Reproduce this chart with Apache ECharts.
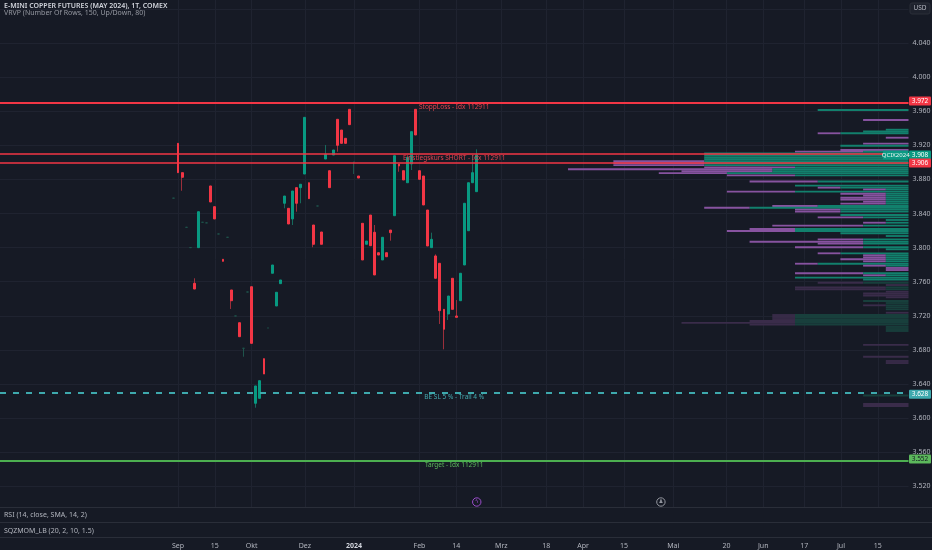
<!DOCTYPE html>
<html lang="de">
<head>
<meta charset="UTF-8">
<title>E-MINI COPPER FUTURES (MAY 2024), 1T, COMEX</title>
<script src="https://cdn.jsdelivr.net/npm/echarts/dist/echarts.min.js"></script>
<style>
  html, body { margin: 0; padding: 0; background: #161a25; }
  #chart { width: 932px; height: 550px; }
</style>
</head>
<body>
<div id="chart"></div>
<script>
// slots on the time axis (one per traded day, future days included)
var SLOT_COUNT = 222;
var FIRST_SLOT = 42;

var tickLabels = [
  [43, 'Sep'], [52, '15'], [61, 'Okt'], [74, 'Dez'], [86, '2024'], [102, 'Feb'],
  [111, '14'], [122, 'Mrz'], [133, '18'], [142, 'Apr'], [152, '15'], [164, 'Mai'],
  [177, '20'], [186, 'Jun'], [196, '17'], [205, 'Jul'], [214, '15']
];

// daily bars from FIRST_SLOT on: [open, close, low, high]
var candles = [
  [3.8580, 3.8580, 3.8580, 3.8580], [3.9223, 3.8879, 3.8879, 3.9223], [3.8879, 3.8825, 3.8667, 3.8879],
  [3.8238, 3.8238, 3.8238, 3.8238], [3.8000, 3.8000, 3.8000, 3.8000], [3.7581, 3.7514, 3.7514, 3.7640],
  [3.7999, 3.8421, 3.7999, 3.8421], [3.8297, 3.8297, 3.8297, 3.8297], [3.8290, 3.8290, 3.8290, 3.8290],
  [3.8723, 3.8535, 3.8535, 3.8723], [3.8480, 3.8336, 3.8336, 3.8480], [3.8160, 3.8160, 3.8160, 3.8160],
  [3.7863, 3.7839, 3.7839, 3.7863], [3.8121, 3.8121, 3.8121, 3.8121], [3.7503, 3.7377, 3.7280, 3.7503],
  [3.7198, 3.7198, 3.7198, 3.7198], [3.7119, 3.6955, 3.6955, 3.7119], [3.6819, 3.6819, 3.6720, 3.6819],
  [3.7479, 3.7479, 3.7479, 3.7479], [3.7541, 3.6877, 3.6877, 3.7541], [3.6174, 3.6377, 3.6122, 3.6377],
  [3.6232, 3.6439, 3.6232, 3.6439], [3.6697, 3.6517, 3.6517, 3.6697], [3.7057, 3.7057, 3.7057, 3.7057],
  [3.7699, 3.7796, 3.7699, 3.7796], [3.7315, 3.7476, 3.7315, 3.7476], [3.7577, 3.7620, 3.7577, 3.7620],
  [3.8520, 3.8605, 3.8461, 3.8605], [3.8461, 3.8277, 3.8277, 3.8461], [3.8336, 3.8664, 3.8265, 3.8664],
  [3.8703, 3.8520, 3.8421, 3.8703], [3.8703, 3.8743, 3.8520, 3.8743], [3.8863, 3.9528, 3.8863, 3.9528],
  [3.8761, 3.8574, 3.8574, 3.8761], [3.8265, 3.8039, 3.8004, 3.8265], [3.8488, 3.8488, 3.8488, 3.8488],
  [3.8183, 3.8039, 3.8039, 3.8183], [3.9039, 3.9094, 3.9039, 3.9204], [3.8902, 3.8703, 3.8703, 3.8902],
  [3.9086, 3.9145, 3.9086, 3.9145], [3.9505, 3.9200, 3.9125, 3.9505], [3.9379, 3.9223, 3.9223, 3.9379],
  [3.9282, 3.9223, 3.9223, 3.9282], [3.9622, 3.9442, 3.9442, 3.9622], [3.9004, 3.9004, 3.8863, 3.9004],
  [3.8840, 3.8816, 3.8816, 3.8840], [3.8285, 3.7855, 3.7855, 3.8285], [3.8039, 3.8077, 3.8039, 3.8077],
  [3.8382, 3.8022, 3.8022, 3.8382], [3.8180, 3.7679, 3.7679, 3.8265], [3.7940, 3.7913, 3.7913, 3.7940],
  [3.7855, 3.8121, 3.7855, 3.8121], [3.7940, 3.7893, 3.7893, 3.7940], [3.8206, 3.8175, 3.8081, 3.8206],
  [3.8374, 3.9078, 3.8374, 3.9078], [3.8981, 3.8957, 3.8890, 3.8981], [3.8902, 3.8793, 3.8793, 3.8902],
  [3.8761, 3.9059, 3.8761, 3.9059], [3.8981, 3.9360, 3.8910, 3.9360], [3.9622, 3.9321, 3.9321, 3.9622],
  [3.8902, 3.8801, 3.8801, 3.8902], [3.8840, 3.8500, 3.8500, 3.8840], [3.8441, 3.8019, 3.8019, 3.8441],
  [3.7999, 3.8097, 3.7999, 3.8175], [3.7902, 3.7640, 3.7640, 3.7921], [3.7816, 3.7260, 3.7104, 3.7816],
  [3.7276, 3.7042, 3.6807, 3.7276], [3.7221, 3.7432, 3.7151, 3.7432], [3.7640, 3.7276, 3.7276, 3.7640],
  [3.7198, 3.7182, 3.7182, 3.7385], [3.7377, 3.7699, 3.7377, 3.7699], [3.7796, 3.8520, 3.7796, 3.8520],
  [3.8198, 3.8761, 3.8198, 3.8761], [3.8761, 3.8879, 3.8761, 3.9086], [3.8656, 3.9086, 3.8656, 3.9153]
];

// visible range volume profile rows: [price, up volume, down volume]
var VP_ROW_STEP = 0.00233;
var VALUE_AREA_LOW = 3.760;
var vpRows = [
  [3.9614, 4, 0], [3.9497, 0, 2], [3.9383, 1, 0], [3.9362, 2, 0], [3.9341, 3, 1], [3.9289, 0, 1],
  [3.9219, 0, 2], [3.9195, 3, 0], [3.9145, 0, 3], [3.9125, 2, 3], [3.9104, 9, 0], [3.9080, 9, 0],
  [3.9057, 9, 0], [3.9036, 9, 0], [3.9013, 9, 4], [3.8990, 9, 4], [3.8967, 9, 4], [3.8942, 5, 4],
  [3.8919, 6, 9], [3.8896, 6, 4], [3.8873, 8, 3], [3.8848, 5, 3], [3.8775, 4, 3], [3.8726, 5, 0],
  [3.8703, 3, 1], [3.8682, 1, 1], [3.8656, 5, 3], [3.8632, 1, 2], [3.8609, 1, 1], [3.8585, 1, 2],
  [3.8562, 1, 2], [3.8538, 1, 1], [3.8515, 1, 2], [3.8488, 4, 2], [3.8467, 7, 2], [3.8445, 3, 2],
  [3.8421, 3, 2], [3.8382, 3, 0], [3.8355, 2, 2], [3.8324, 1, 0], [3.8292, 1, 1], [3.8257, 2, 4],
  [3.8218, 5, 2], [3.8195, 5, 3], [3.8168, 3, 0], [3.8136, 1, 0], [3.8097, 2, 2], [3.8069, 2, 5],
  [3.8046, 2, 2], [3.8004, 2, 3], [3.7980, 1, 0], [3.7933, 3, 1], [3.7910, 1, 1], [3.7886, 1, 1],
  [3.7863, 1, 2], [3.7839, 1, 1], [3.7811, 4, 1], [3.7788, 1, 1], [3.7761, 0, 1], [3.7737, 0, 1],
  [3.7699, 2, 3], [3.7675, 1, 1], [3.7647, 5, 0], [3.7626, 2, 0], [3.7588, 2, 2], [3.7561, 0, 1],
  [3.7534, 1, 4], [3.7511, 1, 4], [3.7483, 0, 1], [3.7462, 0, 2], [3.7438, 0, 2], [3.7417, 0, 1],
  [3.7374, 2, 0], [3.7350, 1, 0], [3.7323, 1, 1], [3.7300, 1, 0], [3.7276, 1, 0], [3.7236, 0, 1],
  [3.7209, 5, 1], [3.7186, 5, 1], [3.7162, 5, 1], [3.7139, 5, 2], [3.7118, 5, 5], [3.7096, 5, 2],
  [3.7069, 1, 0], [3.7045, 1, 0], [3.7022, 1, 0], [3.6858, 0, 2], [3.6720, 0, 2], [3.6670, 0, 1],
  [3.6646, 0, 1], [3.6265, 2, 0], [3.6165, 0, 2], [3.6142, 0, 2]
];

// drawn horizontal levels and their texts
var levelPrices = [3.972, 3.9086, 3.9025, 3.628, 3.552];
var levelTexts = ['StoppLoss - Idx 112911', '', 'Einstiegskurs SHORT - Idx 112911', 'BE SL 5 % - Trail 4 %', 'Target - Idx 112911'];
// price scale tags: [price, text]
var priceTags = [[3.972, '3.972'], [3.9086, '3.908'], [3.9086, '3.906'], [3.628, '3.628'], [3.552, '3.552']];
var symbolName = 'QCIX2024';
var eventSlots = [116, 161];

var BG = '#161a25', GRID = '#1f2330', TEXT = '#b2b5be';
var UP = '#089981', DOWN = '#f23645', DOJI = '#1f544c';
var WICK_UP = '#16695c', WICK_DOWN = '#9b2f3b';
var VP_UP = '#12806d', VP_DN = '#8753a0', VP_UP_DIM = '#183f3c', VP_DN_DIM = '#3a2c4a';
var FONT = 'Noto Sans';

var tickMap = {};
tickLabels.forEach(function (t) { tickMap[t[0]] = t[1]; });
var categories = [];
for (var i = 0; i < SLOT_COUNT; i++) categories.push('s' + i);

function isTick(index) { return tickMap[index] !== undefined; }
function tickText(value, index) {
  var t = tickMap[index];
  if (t === undefined) return '';
  return t === '2024' ? '{y|2024}' : t;
}

var wickData = [], bodyData = [];
for (var k = 0; k < FIRST_SLOT; k++) { wickData.push('-'); bodyData.push('-'); }
candles.forEach(function (c) {
  var o = c[0], cl = c[1], lo = c[2], hi = c[3];
  if (o === cl) {
    var st = { color: DOJI, color0: DOJI, borderColor: DOJI, borderColor0: DOJI, borderColorDoji: DOJI };
    wickData.push({ value: [o, cl, lo, hi], itemStyle: st });
    bodyData.push({ value: [o, cl, o, o], itemStyle: st });
  } else {
    wickData.push([o, cl, lo, hi]);
    bodyData.push([o, cl, Math.min(o, cl), Math.max(o, cl)]);
  }
});

var levelColors = [DOWN, DOWN, DOWN, '#3ea9ad', '#4caf50'];
var levelWidths = [2, 1.5, 1.5, 2, 2];
var levelTypes = ['solid', 'solid', 'solid', [6, 7], 'solid'];
var levelLabelPos = ['insideMiddleBottom', 'insideMiddleBottom', 'insideMiddleTop', 'insideMiddleBottom', 'insideMiddleBottom'];
var levelLabelColors = ['#e0434f', '#e0434f', '#e0434f', '#45aab0', '#5cb85c'];

var markLines = levelPrices.map(function (p, i) {
  return {
    yAxis: p,
    lineStyle: { color: levelColors[i], width: levelWidths[i], type: levelTypes[i], opacity: 1 },
    label: {
      show: levelTexts[i] !== '', formatter: levelTexts[i], position: levelLabelPos[i],
      color: levelLabelColors[i], fontSize: 6.5, fontFamily: FONT, distance: 1
    }
  };
});

var dom = document.getElementById('chart');
var myChart = echarts.init(dom, null, { renderer: 'canvas' });

var option = {
  backgroundColor: BG,
  animation: false,
  textStyle: { fontFamily: FONT },
  title: {
    text: 'E-MINI COPPER FUTURES (MAY 2024), 1T, COMEX',
    subtext: 'VRVP (Number Of Rows, 150, Up/Down, 80)',
    left: 4, top: 2, padding: 0, itemGap: 0,
    textStyle: { fontSize: 7, color: '#d1d4dc', fontWeight: 600, fontFamily: FONT },
    subtextStyle: { fontSize: 7, color: '#9598a1', fontFamily: FONT }
  },
  grid: [
    { left: 0, right: 23.5, top: -25.2, bottom: 29.6, outerBoundsMode: 'none', containLabel: false },
    { left: 0, right: 23.5, top: 538, height: 2, outerBoundsMode: 'none', containLabel: false }
  ],
  xAxis: [
    {
      type: 'category', gridIndex: 0, data: categories, boundaryGap: true,
      axisLine: { show: false }, axisTick: { show: false }, axisLabel: { show: false },
      splitLine: { show: true, interval: isTick, alignWithLabel: true, lineStyle: { color: GRID, width: 1 } }
    },
    {
      type: 'category', gridIndex: 1, data: categories, boundaryGap: true, z: 20,
      axisLine: { show: false }, axisTick: { show: false }, splitLine: { show: false },
      axisLabel: {
        show: true, interval: isTick, formatter: tickText, color: TEXT, fontSize: 7, margin: 2,
        fontFamily: FONT, hideOverlap: false,
        rich: { y: { fontWeight: 'bold', fontSize: 7, color: '#d1d4dc', fontFamily: FONT } }
      }
    },
    { type: 'value', gridIndex: 0, min: 0, max: 40.02, inverse: true, show: false, position: 'top' }
  ],
  yAxis: [
    {
      type: 'value', gridIndex: 0, position: 'right', min: 3.48, max: 4.12, interval: 0.04, scale: true,
      axisLine: { show: false }, axisTick: { show: false },
      axisLabel: {
        color: TEXT, fontSize: 7, margin: 4, fontFamily: FONT,
        formatter: function (v) { return (v > 4.05 || v < 3.5) ? '' : v.toFixed(3); }
      },
      splitLine: { show: true, lineStyle: { color: GRID, width: 1 } }
    },
    { type: 'value', gridIndex: 1, show: false }
  ],
  series: [
    {
      name: 'VRVP', type: 'custom', xAxisIndex: 2, yAxisIndex: 0, data: vpRows, z: 1, silent: true,
      encode: { x: 1, y: 0 },
      renderItem: function (params, api) {
        var price = api.value(0), up = api.value(1), dn = api.value(2);
        var base = api.coord([0, price]);
        var xUp = api.coord([up, price])[0];
        var xDn = api.coord([up + dn, price])[0];
        var h = Math.abs(api.size([0, VP_ROW_STEP])[1]) * 0.92;
        var inVA = price >= VALUE_AREA_LOW;
        var children = [];
        if (up > 0) children.push({ type: 'rect', shape: { x: xUp, y: base[1] - h / 2, width: base[0] - xUp, height: h }, style: { fill: inVA ? VP_UP : VP_UP_DIM } });
        if (dn > 0) children.push({ type: 'rect', shape: { x: xDn, y: base[1] - h / 2, width: xUp - xDn, height: h }, style: { fill: inVA ? VP_DN : VP_DN_DIM } });
        return { type: 'group', children: children };
      }
    },
    {
      name: 'wicks', type: 'candlestick', xAxisIndex: 0, yAxisIndex: 0, data: wickData, barWidth: 1, z: 2, silent: true,
      itemStyle: { color: WICK_UP, color0: WICK_DOWN, borderColor: WICK_UP, borderColor0: WICK_DOWN, borderWidth: 1 }
    },
    {
      name: 'QCIX2024', type: 'candlestick', xAxisIndex: 0, yAxisIndex: 0, data: bodyData, barWidth: 2.4, z: 3, silent: true,
      itemStyle: { color: UP, color0: DOWN, borderColor: UP, borderColor0: DOWN, borderWidth: 1 },
      markLine: { symbol: ['none', 'none'], silent: true, z: 6, data: markLines, animation: false }
    }
  ]
};

myChart.setOption(option);

// overlay: panes below the chart, price scale tags, event markers
var g = [];
g.push({ type: 'rect', z: 10, shape: { x: 0, y: 507, width: 932, height: 43 }, style: { fill: BG } });
[507.5, 522.5, 537.5].forEach(function (y) {
  g.push({ type: 'line', z: 11, shape: { x1: 0, y1: y, x2: 932, y2: y }, style: { stroke: '#2a2e39', lineWidth: 1 } });
});
g.push({ type: 'text', z: 12, style: { text: 'RSI (14, close, SMA, 14, 2)', x: 4, y: 515, fill: TEXT, font: '7px "Noto Sans"', textVerticalAlign: 'middle' } });
g.push({ type: 'text', z: 12, style: { text: 'SQZMOM_LB (20, 2, 10, 1.5)', x: 4, y: 530.5, fill: TEXT, font: '7px "Noto Sans"', textVerticalAlign: 'middle' } });
g.push({ type: 'rect', z: 12, shape: { x: 910, y: 3, width: 20, height: 11, r: 2 }, style: { fill: '#1e222d', stroke: '#2a2e39', lineWidth: 1 } });
g.push({ type: 'text', z: 13, style: { text: 'USD', x: 920, y: 8.5, fill: TEXT, font: '6.5px "Noto Sans"', textAlign: 'center', textVerticalAlign: 'middle' } });

var tagBg = [DOWN, UP, DOWN, '#3ea9ad', '#5cb85c'];
var tagFg = ['#ffffff', '#ffffff', '#ffffff', '#ffffff', '#131722'];
var tagShift = [0, 0, 8, 0, 0];
priceTags.forEach(function (t, i) {
  var y = myChart.convertToPixel({ yAxisIndex: 0 }, t[0]) + tagShift[i];
  g.push({ type: 'rect', z: 14, shape: { x: 909, y: y - 4.5, width: 22, height: 9, r: 1 }, style: { fill: tagBg[i] } });
  g.push({ type: 'text', z: 15, style: { text: t[1], x: 920, y: y, fill: tagFg[i], font: '6.5px "Noto Sans"', textAlign: 'center', textVerticalAlign: 'middle' } });
});
var lastY = myChart.convertToPixel({ yAxisIndex: 0 }, priceTags[1][0]);
g.push({ type: 'rect', z: 14, shape: { x: 883, y: lastY - 4.5, width: 25.5, height: 9 }, style: { fill: '#0b9983' } });
g.push({ type: 'text', z: 15, style: { text: symbolName, x: 895.7, y: lastY, fill: '#e8f5f2', font: '6px "Noto Sans"', textAlign: 'center', textVerticalAlign: 'middle' } });

var eventStroke = ['#9c4dcc', '#9598a1'];
var eventGlyph = ['ϟ', '♟'];
eventSlots.forEach(function (s, i) {
  var x = myChart.convertToPixel({ xAxisIndex: 0 }, s);
  g.push({ type: 'circle', z: 12, shape: { cx: x, cy: 502, r: 4.2 }, style: { fill: BG, stroke: eventStroke[i], lineWidth: 1 } });
  g.push({ type: 'text', z: 13, style: { text: eventGlyph[i], x: x, y: 502, fill: eventStroke[i], font: '5.5px "DejaVu Sans"', textAlign: 'center', textVerticalAlign: 'middle' } });
});

myChart.setOption({ graphic: g });
</script>
</body>
</html>
